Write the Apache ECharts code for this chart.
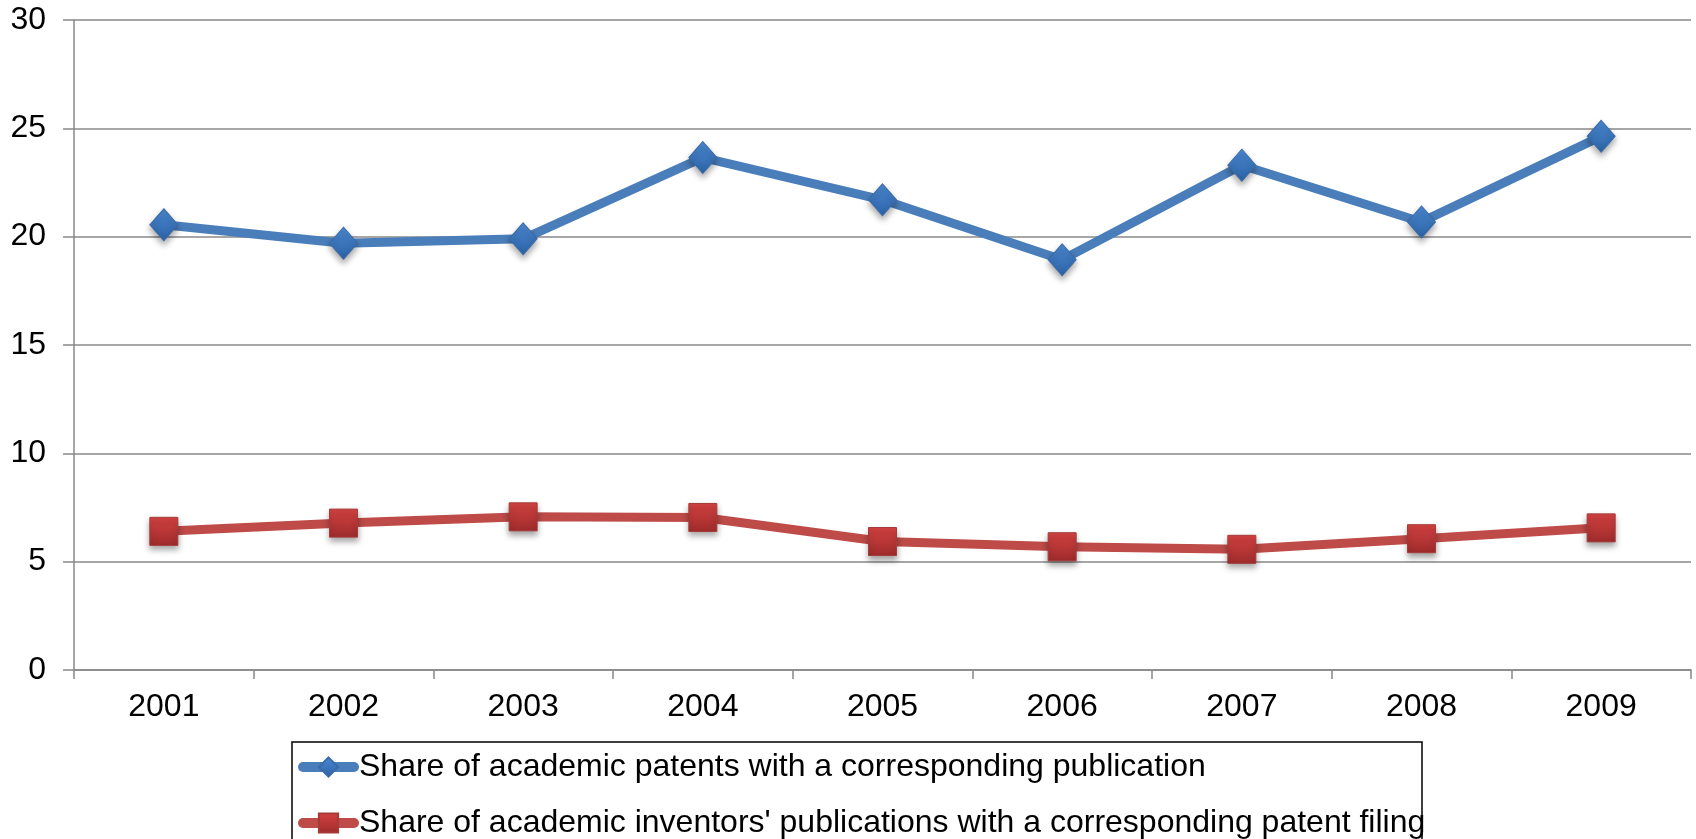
<!DOCTYPE html>
<html>
<head>
<meta charset="utf-8">
<title>Academic patents and publications</title>
<script src="https://cdn.jsdelivr.net/npm/echarts@6/dist/echarts.min.js"></script>
<style>
  html, body { margin: 0; padding: 0; background: #ffffff; }
  #chart { width: 1696px; height: 839px; }
</style>
</head>
<body>
<div id="chart"></div>
<script>
// Years on the horizontal axis
const years = ['2001', '2002', '2003', '2004', '2005', '2006', '2007', '2008', '2009'];

// Share of academic patents with a corresponding publication (%)
const patentsWithPublication = [20.55, 19.7, 19.9, 23.65, 21.7, 18.93, 23.3, 20.68, 24.63];

// Share of academic inventors' publications with a corresponding patent filing (%)
const publicationsWithPatent = [6.4, 6.78, 7.07, 7.04, 5.93, 5.69, 5.57, 6.06, 6.56];

// Series names shown in the legend
const seriesNames = [
  'Share of academic patents with a corresponding publication',
  "Share of academic inventors' publications with a corresponding patent filing"
];

// Value axis range
const yMin = 0, yMax = 30, yStep = 5;

const FONT = '"Liberation Sans", Arial, sans-serif';
const AXIS_GRAY = '#888888';

function markerGradient(top, bottom) {
  return new echarts.graphic.LinearGradient(0, 0, 0, 1, [
    { offset: 0, color: top },
    { offset: 1, color: bottom }
  ]);
}

const chart = echarts.init(document.getElementById('chart'), null, { renderer: 'canvas' });

chart.setOption({
  animation: false,
  backgroundColor: '#ffffff',
  grid: { left: 74, right: 5, top: 20, bottom: 169, containLabel: false },
  xAxis: {
    type: 'category',
    data: years,
    boundaryGap: true,
    axisLine: { show: true, lineStyle: { color: AXIS_GRAY, width: 1.5 } },
    axisTick: { show: true, length: 9, alignWithLabel: false, lineStyle: { color: AXIS_GRAY, width: 1.5 } },
    axisLabel: { color: '#000', fontFamily: FONT, fontSize: 32, lineHeight: 32, margin: 21 },
    splitLine: { show: false }
  },
  yAxis: {
    type: 'value',
    min: yMin,
    max: yMax,
    interval: yStep,
    axisLine: { show: true, lineStyle: { color: AXIS_GRAY, width: 1.5 } },
    axisTick: { show: true, length: 11, lineStyle: { color: AXIS_GRAY, width: 1.5 } },
    axisLabel: { color: '#000', fontFamily: FONT, fontSize: 32, margin: 28 },
    splitLine: { show: true, lineStyle: { color: AXIS_GRAY, width: 1.5 } }
  },
  // Legend frame (runs past the bottom edge of the canvas)
  graphic: [{
    type: 'rect',
    silent: true,
    shape: { x: 292, y: 742, width: 1130, height: 200 },
    style: { fill: 'none', stroke: '#000', lineWidth: 1.5 }
  }],
  legend: {
    orient: 'vertical',
    left: 298,
    top: 751,
    padding: 0,
    itemGap: 24,
    itemWidth: 51,
    itemHeight: 24,
    textStyle: { color: '#000', fontFamily: FONT, fontSize: 32, lineHeight: 30 },
    lineStyle: { width: 10, cap: 'round' },
    selectedMode: false,
    data: seriesNames
  },
  series: [
    {
      name: seriesNames[0],
      type: 'line',
      data: patentsWithPublication,
      symbol: 'diamond',
      symbolSize: [28, 32],
      showAllSymbol: true,
      lineStyle: { color: '#4A7EBB', width: 9, cap: 'round', join: 'round' },
      itemStyle: {
        color: markerGradient('#4C8AD3', '#2C62A6'),
        borderColor: '#3A6BA8',
        borderWidth: 1,
        shadowColor: 'rgba(0,0,0,0.35)',
        shadowBlur: 6,
        shadowOffsetY: 4
      },
      emphasis: { disabled: true }
    },
    {
      name: seriesNames[1],
      type: 'line',
      data: publicationsWithPatent,
      symbol: 'rect',
      symbolSize: 28,
      showAllSymbol: true,
      lineStyle: { color: '#BE4B48', width: 9, cap: 'round', join: 'round' },
      itemStyle: {
        color: markerGradient('#D54242', '#9E2B2B'),
        borderColor: '#A53A38',
        borderWidth: 1,
        shadowColor: 'rgba(0,0,0,0.35)',
        shadowBlur: 6,
        shadowOffsetY: 4
      },
      emphasis: { disabled: true }
    }
  ]
});
</script>
</body>
</html>
